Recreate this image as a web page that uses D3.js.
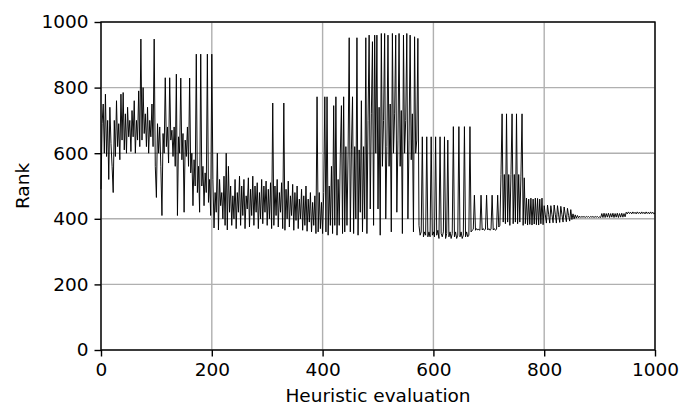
<!DOCTYPE html>
<html>
<head>
<meta charset="utf-8">
<script src="https://cdn.jsdelivr.net/npm/d3@7"></script>
<style>
  body { margin: 0; background: #fff; }
  text { font-family: "DejaVu Sans", sans-serif; }
</style>
</head>
<body>
<div id="chart-area"></div>
<script>
// DATA
// ****

// rank at every second heuristic evaluation (0, 2, 4, ... 1000)
const evalStep = 2
const rankValues = [
  // 0 - 98
  490, 690, 750, 600, 780, 590, 700, 520, 740, 630, 560, 480, 700, 590, 760, 620, 690, 580, 780, 640,
  785, 610, 720, 600, 740, 650, 700, 605, 730, 650, 760, 600, 700, 640, 790, 620, 948, 640, 800, 660,
  720, 620, 740, 600, 700, 650, 750, 620, 948, 560,
  // 100 - 198
  465, 690, 600, 680, 560, 410, 660, 600, 830, 620, 680, 570, 830, 640, 670, 590, 680, 560, 841, 410,
  650, 600, 829, 580, 660, 420, 640, 590, 680, 560, 829, 540, 600, 440, 580, 500, 902, 480, 560, 420,
  902, 500, 560, 440, 540, 480, 902, 450, 520, 410,
  // 200 - 298
  902, 520, 372, 480, 420, 600, 366, 520, 440, 480, 400, 530, 380, 600, 366, 560, 420, 500, 380, 470,
  400, 520, 370, 480, 420, 530, 380, 500, 410, 520, 370, 470, 430, 525, 375, 490, 410, 530, 380, 500,
  420, 510, 370, 480, 400, 520, 385, 500, 420, 515,
  // 300 - 398
  380, 490, 400, 510, 370, 753, 380, 500, 410, 520, 375, 480, 420, 510, 370, 753, 365, 490, 400, 515,
  375, 470, 410, 505, 365, 480, 395, 500, 370, 460, 400, 490, 365, 470, 380, 500, 362, 460, 390, 480,
  360, 450, 380, 470, 355, 772, 360, 480, 370, 450,
  // 400 - 498
  355, 480, 772, 360, 772, 350, 500, 380, 560, 355, 745, 380, 772, 350, 520, 380, 600, 745, 355, 772,
  360, 620, 380, 600, 952, 360, 610, 772, 355, 620, 400, 952, 350, 610, 420, 760, 360, 620, 400, 952,
  355, 700, 960, 430, 720, 940, 380, 960, 600, 960,
  // 500 - 598
  430, 740, 350, 965, 560, 700, 965, 400, 620, 960, 560, 750, 360, 965, 600, 720, 960, 420, 640, 965,
  560, 730, 355, 960, 600, 700, 965, 400, 640, 960, 580, 720, 360, 955, 600, 640, 950, 380, 350, 360,
  650, 345, 360, 350, 650, 345, 360, 345, 650, 350,
  // 600 - 698
  360, 345, 650, 350, 365, 340, 650, 355, 345, 360, 650, 340, 355, 640, 345, 360, 340, 355, 681, 345,
  360, 340, 350, 681, 345, 360, 340, 350, 681, 345, 360, 345, 350, 681, 360, 365, 368, 472, 365, 370,
  366, 368, 365, 472, 366, 370, 365, 368, 472, 366,
  // 700 - 798
  370, 365, 368, 472, 366, 370, 365, 368, 472, 375, 380, 535, 720, 390, 535, 385, 720, 390, 535, 380,
  535, 720, 385, 535, 390, 720, 385, 535, 390, 530, 720, 380, 525, 385, 463, 381, 460, 383, 463, 381,
  460, 384, 463, 382, 462, 381, 460, 385, 463, 382,
  // 800 - 898
  440, 412, 387, 442, 414, 387, 440, 413, 388, 442, 414, 387, 440, 412, 389, 438, 413, 390, 436, 412,
  391, 432, 410, 393, 428, 398, 415, 400, 412, 402, 410, 403, 408, 404, 407, 405, 407, 404, 407, 405,
  407, 404, 407, 405, 407, 404, 407, 405, 407, 404,
  // 900 - 1000
  406, 404, 416, 404, 417, 404, 416, 405, 417, 404, 416, 405, 417, 404, 416, 405, 417, 404, 416, 405,
  417, 405, 416, 406, 420, 415, 421, 416, 420, 415, 421, 416, 420, 415, 421, 416, 420, 415, 421, 416,
  420, 415, 421, 416, 420, 415, 421, 416, 420, 415, 418
]

const xTicks = [0, 200, 400, 600, 800, 1000]
const yTicks = [0, 200, 400, 600, 800, 1000]

const points = rankValues.map((r, i) => ({ evaluation: i * evalStep, rank: r }))

// MARGINS & GROUPS
// ****************

const margin = {top: 22, right: 24, bottom: 58, left: 101}
const width = 554
const height = 328

const svg = d3.select("#chart-area")
  .append("svg")
    .attr("width", 679)
    .attr("height", 408)

const g = svg.append("g")
  .attr("transform", "translate(" + margin.left + ", " + margin.top + ")")

// SCALES
// ******

const x = d3.scaleLinear().domain([0, 1000]).range([0, width])
const y = d3.scaleLinear().domain([0, 1000]).range([height, 0])

// GRID
// ****

g.append("g")
  .attr("class", "grid")
  .selectAll("line.vx")
  .data(xTicks)
  .enter().append("line")
    .attr("x1", d => x(d)).attr("x2", d => x(d))
    .attr("y1", 0).attr("y2", height)
    .attr("stroke", "#b0b0b0")
    .attr("stroke-width", 1.4)

g.append("g")
  .attr("class", "grid")
  .selectAll("line.hy")
  .data(yTicks)
  .enter().append("line")
    .attr("x1", 0).attr("x2", width)
    .attr("y1", d => y(d)).attr("y2", d => y(d))
    .attr("stroke", "#b0b0b0")
    .attr("stroke-width", 1.4)

// LINE
// ****

const line = d3.line()
  .x(d => x(d.evaluation))
  .y(d => y(d.rank))

g.append("path")
  .datum(points)
  .attr("fill", "none")
  .attr("stroke", "#000")
  .attr("stroke-width", 0.95)
  .attr("stroke-linejoin", "miter")
  .attr("d", line)

// AXES
// ****

const bottomAxis = d3.axisBottom(x).tickValues(xTicks).tickFormat(d3.format("d")).tickSize(6.5).tickPadding(6)
const xAxisG = g.append("g")
  .attr("class", "bottom axis")
  .attr("transform", "translate(0, " + height + ")")
  .call(bottomAxis)

const leftAxis = d3.axisLeft(y).tickValues(yTicks).tickFormat(d3.format("d")).tickSize(6.5).tickPadding(6)
const yAxisG = g.append("g")
  .attr("class", "left axis")
  .call(leftAxis)

;[xAxisG, yAxisG].forEach(a => {
  a.select(".domain").remove()
  a.selectAll(".tick line").attr("stroke", "#000").attr("stroke-width", 1.4)
  a.selectAll(".tick text")
    .attr("fill", "#000")
    .attr("font-size", "18.5px")
    .attr("font-family", "DejaVu Sans")
})

// frame
g.append("rect")
  .attr("x", 0).attr("y", 0)
  .attr("width", width).attr("height", height)
  .attr("fill", "none")
  .attr("stroke", "#000")
  .attr("stroke-width", 1.4)

// LABELS
// ******

g.append("text")
  .attr("class", "x axis-label")
  .attr("x", width / 2)
  .attr("y", height + 52)
  .attr("font-size", "18.5px")
  .attr("text-anchor", "middle")
  .style("fill", "black")
  .text("Heuristic evaluation")

g.append("text")
  .attr("class", "y axis-label")
  .attr("x", -(height / 2))
  .attr("y", -72)
  .attr("font-size", "18.5px")
  .attr("text-anchor", "middle")
  .attr("transform", "rotate(-90)")
  .style("fill", "black")
  .text("Rank")
</script>
</body>
</html>
